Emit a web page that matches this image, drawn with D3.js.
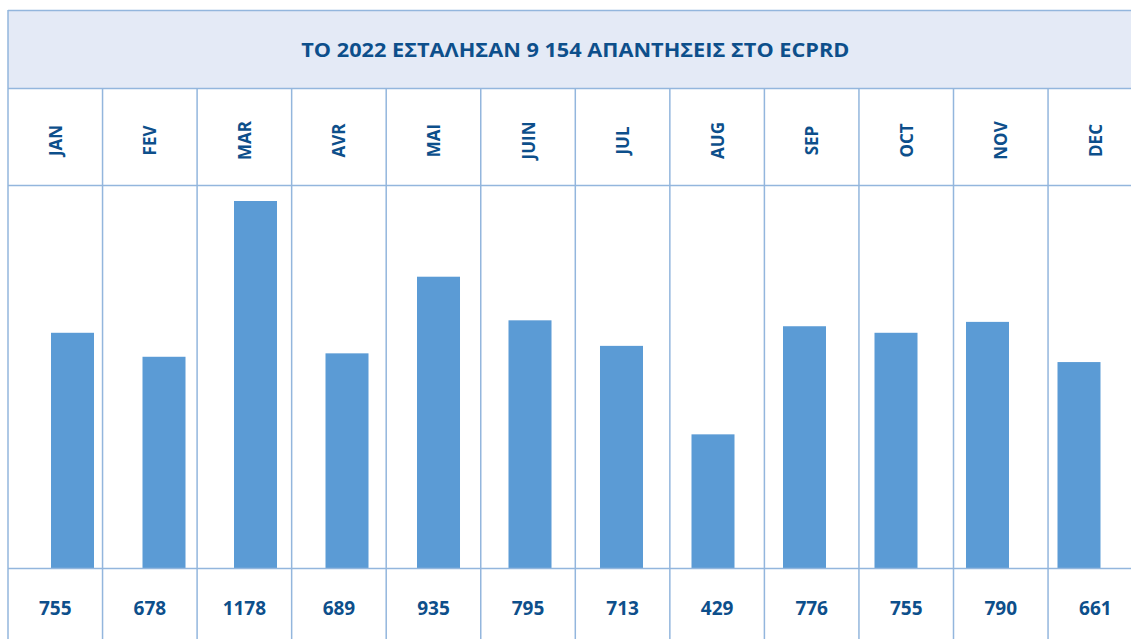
<!DOCTYPE html>
<html>
<head>
<meta charset="utf-8">
<script src="https://cdn.jsdelivr.net/npm/d3@7"></script>
<style>
  html, body { margin: 0; padding: 0; background: #fff; }
  svg { display: block; font-family: 'Open Sans', sans-serif; }
</style>
</head>
<body>
<div id="chart"></div>
<script>
const title = 'TO 2022 ΕΣΤΑΛΗΣΑΝ 9 154 ΑΠΑΝΤΗΣΕΙΣ ΣΤΟ ECPRD'
const months = ['JAN', 'FEV', 'MAR', 'AVR', 'MAI', 'JUIN', 'JUL', 'AUG', 'SEP', 'OCT', 'NOV', 'DEC']
const counts = [755, 678, 1178, 689, 935, 795, 713, 429, 776, 755, 790, 661]

const width = 1131
const height = 639
const textColor = '#0d4f8b'
const lineColor = '#93b6dd'
const barColor = '#5b9bd5'

// table rows
const tableTop = 10
const headerBottom = 88
const monthBottom = 185
const valueTop = 568
const tableLeft = 8
const colWidth = 94.55

const svg = d3.select('#chart')
  .append('svg')
  .attr('width', width)
  .attr('height', height)

// table columns (the table runs past the right edge)
const col = d3.scaleBand()
  .domain(months)
  .range([tableLeft, tableLeft + colWidth * months.length])

// bars sit on their own slightly narrower grid
const x = d3.scaleBand()
  .domain(months)
  .range([51, 1100.5])
  .paddingInner(0.53)
  .paddingOuter(0)

const y = d3.scaleLinear()
  .domain([0, d3.max(counts)])
  .range([valueTop, 201])

// header band
svg.append('rect')
  .attr('x', tableLeft)
  .attr('y', tableTop)
  .attr('width', width - tableLeft)
  .attr('height', headerBottom - tableTop)
  .attr('fill', '#e4eaf6')

svg.append('text')
  .attr('x', tableLeft + colWidth * 6)
  .attr('y', 57)
  .attr('text-anchor', 'middle')
  .attr('font-size', 20)
  .attr('font-weight', 700)
  .attr('fill', textColor)
  .attr('textLength', 548)
  .attr('lengthAdjust', 'spacingAndGlyphs')
  .text(title)

// bars
svg.selectAll('.bar')
  .data(months)
  .enter()
  .append('rect')
  .attr('class', 'bar')
  .attr('x', d => x(d))
  .attr('y', (d, i) => y(counts[i]))
  .attr('width', x.bandwidth())
  .attr('height', (d, i) => y(0) - y(counts[i]))
  .attr('fill', barColor)

// grid lines
const hLines = [tableTop, headerBottom, monthBottom, valueTop]
svg.selectAll('.hline')
  .data(hLines)
  .enter()
  .append('line')
  .attr('class', 'hline')
  .attr('x1', tableLeft)
  .attr('x2', width)
  .attr('y1', d => d + 0.5)
  .attr('y2', d => d + 0.5)
  .attr('stroke', lineColor)
  .attr('stroke-width', 1.5)

svg.selectAll('.vline')
  .data(months)
  .enter()
  .append('line')
  .attr('class', 'vline')
  .attr('x1', d => col(d))
  .attr('x2', d => col(d))
  .attr('y1', (d, i) => i === 0 ? tableTop : headerBottom)
  .attr('y2', height)
  .attr('stroke', lineColor)
  .attr('stroke-width', 1.5)

// month labels
svg.selectAll('.month')
  .data(months)
  .enter()
  .append('text')
  .attr('class', 'month')
  .attr('transform', d => `translate(${col(d) + col.bandwidth() / 2 + 6.5},140.5) rotate(-90)`)
  .attr('text-anchor', 'middle')
  .attr('font-size', 17)
  .attr('font-weight', 700)
  .attr('fill', textColor)
  .text(d => d)

// values
svg.selectAll('.value')
  .data(months)
  .enter()
  .append('text')
  .attr('class', 'value')
  .attr('x', d => col(d) + col.bandwidth() / 2)
  .attr('y', 615)
  .attr('text-anchor', 'middle')
  .attr('font-size', 19)
  .attr('font-weight', 700)
  .attr('fill', textColor)
  .text((d, i) => counts[i])
</script>
</body>
</html>
